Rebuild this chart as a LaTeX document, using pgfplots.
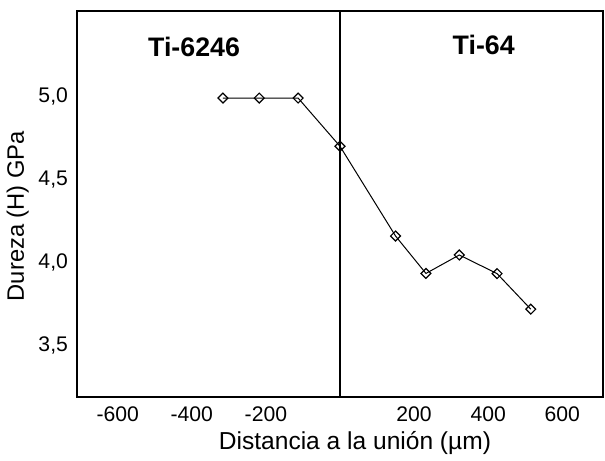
\documentclass[border=0pt]{standalone}
\usepackage{fontspec}
\setmainfont{Liberation Sans}
\usepackage{pgfplots}
\pgfplotsset{compat=1.18}

\begin{document}
\begin{tikzpicture}
\begin{axis}[
  scale only axis,
  width=263.5pt, height=193.5pt,
  xmin=-710, xmax=710,
  ymin=3.19, ymax=5.514,
  axis line style={line width=0.9pt},
  xtick={-600,-400,-200,200,400,600},
  xticklabels={-600,-400,-200,200,400,600},
  ytick={3.5,4.0,4.5,5.0},
  yticklabels={{3,5},{4,0},{4,5},{5,0}},
  major tick length=0pt,
  tick label style={font=\fontsize{10.6}{12}\selectfont},
  xticklabel style={yshift=-1pt},
  yticklabel style={xshift=-1pt},
  label style={font=\fontsize{12.3}{14}\selectfont},
  xlabel={Distancia a la unión (µm)},
  ylabel={Dureza (H) GPa},
  xlabel style={yshift=2pt, xshift=7.5pt},
  ylabel style={yshift=-2pt, xshift=-6pt, font=\fontsize{11.9}{14}\selectfont},
  clip=false,
]
\addplot[black, line width=0.5pt, mark=square, mark size=1.75pt,
  mark options={rotate=45, fill=white, line width=0.6pt}]
  coordinates {(-316,4.99) (-218,4.99) (-113,4.99) (0,4.70) (150,4.16)
               (232,3.935) (322,4.046) (424,3.934) (515,3.72)};
\draw[line width=0.7pt] (axis cs:0,3.19) -- (axis cs:0,5.514);
\node[font=\bfseries\fontsize{13.4}{15}\selectfont] at (axis cs:-394,5.30) {Ti-6246};
\node[font=\bfseries\fontsize{13.4}{15}\selectfont] at (axis cs:388,5.31) {Ti-64};
\coordinate (bl) at ([xshift=-38pt,yshift=-28.3pt]rel axis cs:0,0);
\coordinate (tr) at ([xshift=1pt,yshift=5.5pt]rel axis cs:1,1);
\end{axis}
\path (bl) rectangle (tr);
\end{tikzpicture}
\end{document}
